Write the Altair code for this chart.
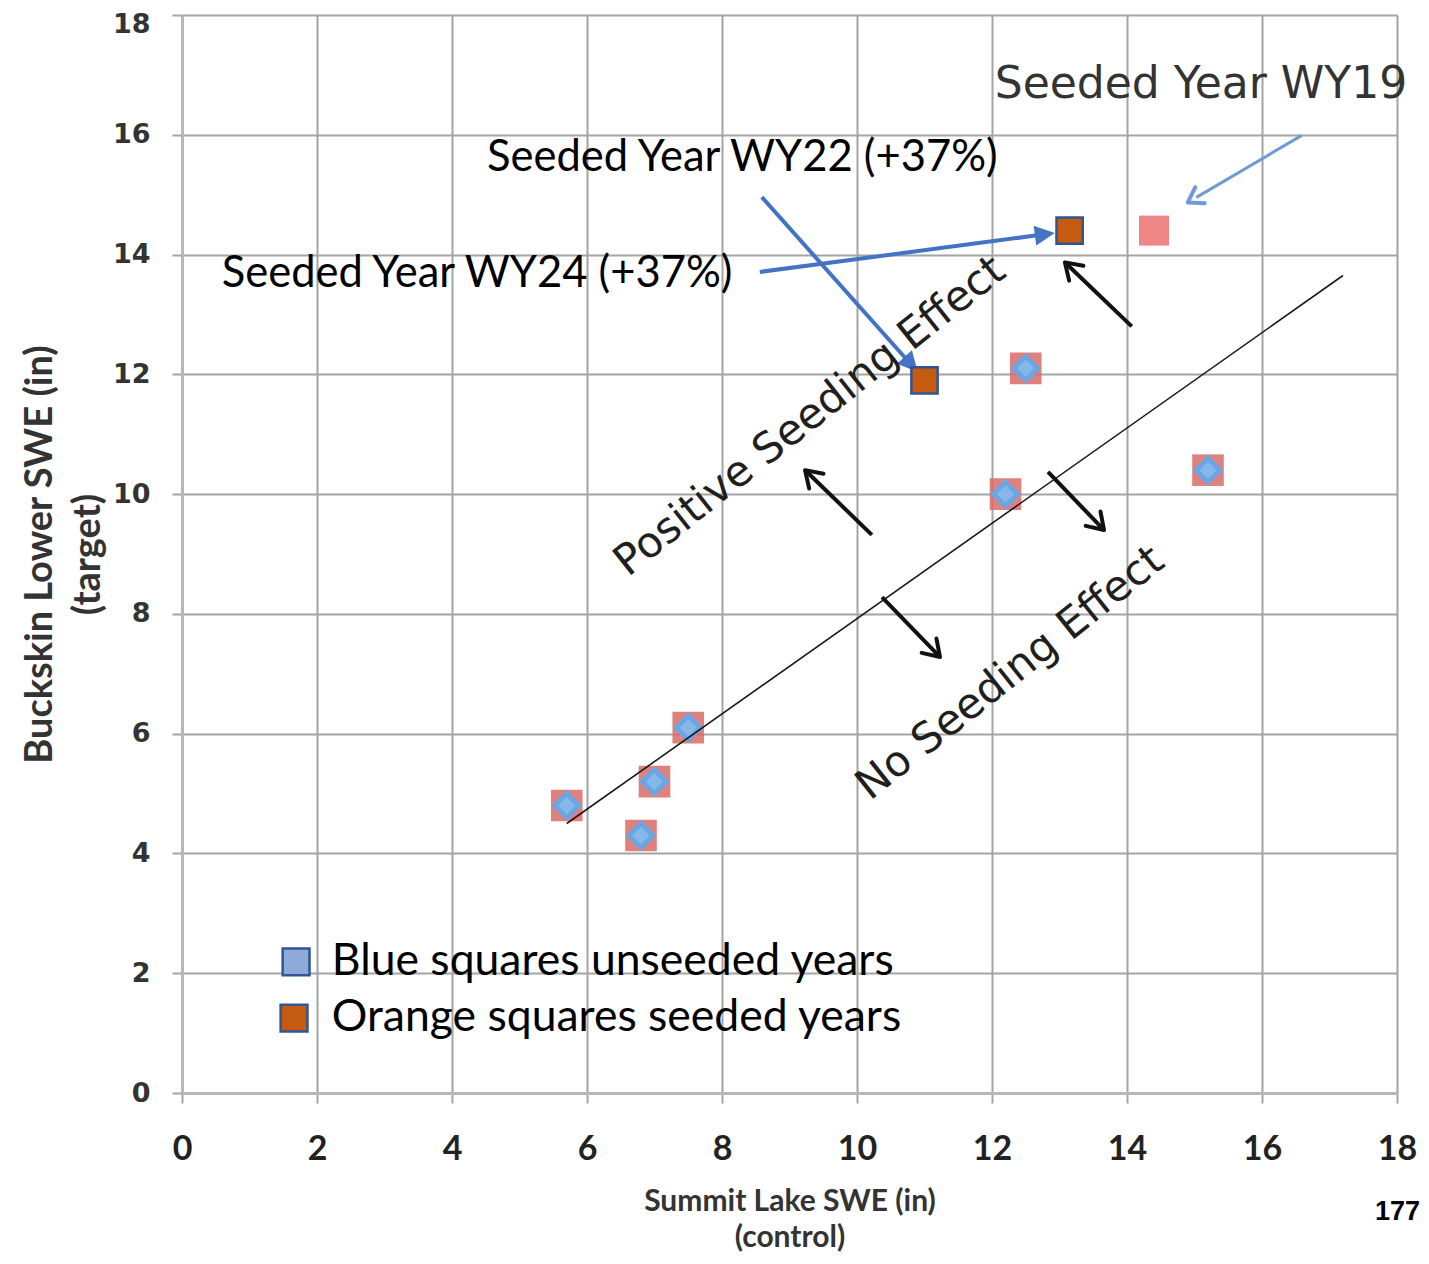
import math
import altair as alt
import pandas as pd

# ---------------- data ----------------
unseeded_x = [5.7, 6.8, 7.0, 7.5, 12.2, 12.5, 15.2]
unseeded_y = [4.8, 4.3, 5.2, 6.1, 10.0, 12.1, 10.4]
wy19_x = [14.4]
wy19_y = [14.4]
seeded_x = [11.0, 13.15]
seeded_y = [11.9, 14.4]
fit_x = [5.7, 17.2]
fit_y = [4.5, 13.65]

ticks = [0, 2, 4, 6, 8, 10, 12, 14, 16, 18]

# blue annotation arrows (tail -> head)
blue_x = [8.59, 8.56]
blue_y = [14.96, 13.71]
blue_x2 = [10.90, 12.93]
blue_y2 = [12.04, 14.36]
# light blue arrow for WY19
lb_x = [16.59]
lb_y = [15.99]
lb_x2 = [14.90]
lb_y2 = [14.87]
# black arrows
blk_x = [14.07, 10.22, 12.83, 10.37]
blk_y = [12.80, 9.32, 10.37, 8.28]
blk_x2 = [13.08, 9.23, 13.66, 11.23]
blk_y2 = [13.87, 10.40, 9.40, 7.28]

note_text = ["Seeded Year WY22 (+37%)", "Seeded Year WY24 (+37%)"]
note_x = [4.52, 0.59]
note_y = [15.61, 13.67]
wy19_text = ["Seeded Year WY19"]
wy19_tx = [12.04]
wy19_ty = [16.83]
diag_text = ["Positive Seeding Effect", "No Seeding Effect"]
diag_x = [9.30, 12.27]
diag_y = [11.30, 7.01]
legend_text = ["Blue squares unseeded years", "Orange squares seeded years"]
legend_x = [1.69, 1.66]
legend_y = [2.19, 1.25]
legend_tx = [2.22, 2.22]
legend_fill = ["#8EAADB", "#C55A11"]

W, H = 1215, 1078
SX, SY = W / 18.0, H / 18.0

xs = alt.Scale(domain=[0, 18], nice=False, zero=False)
ys = alt.Scale(domain=[0, 18], nice=False, zero=False)

x_axis = alt.Axis(values=ticks, title=["Summit Lake SWE (in)", "(control)"],
                  grid=True, gridColor="#A4A4A4", gridWidth=2,
                  domainColor="#B8B8B8", domainWidth=3,
                  tickColor="#A4A4A4", tickWidth=2, tickSize=10,
                  labelFlush=False,
                  labelFont="Lato", labelFontWeight="bold", labelFontSize=34,
                  labelColor="#222222", labelPadding=29,
                  titleFont="Lato", titleFontWeight="bold", titleFontSize=30,
                  titleColor="#333333", titleLineHeight=36, titlePadding=20)
y_axis = alt.Axis(values=ticks, title=["Buckskin Lower SWE (in)", "(target)"],
                  grid=True, gridColor="#A4A4A4", gridWidth=2,
                  domainColor="#B8B8B8", domainWidth=3,
                  tickColor="#A4A4A4", tickWidth=2, tickSize=10,
                  labelFlush=False,
                  labelOffset={"condition": {"test": "datum.value == 18", "value": 9}, "value": 0},
                  labelFont="DejaVu Sans", labelFontWeight="bold", labelFontSize=27,
                  labelColor="#333333", labelPadding=22,
                  titleFont="Lato", titleFontWeight="bold", titleFontSize=38,
                  titleColor="#333333", titleLineHeight=48, titlePadding=5)


def X(f="x"):
    return alt.X(f + ":Q", scale=xs, axis=x_axis)


def Y(f="y"):
    return alt.Y(f + ":Q", scale=ys, axis=y_axis)


def arrow_df(x, y, x2, y2, shorten):
    rows = []
    for a, b, c, d in zip(x, y, x2, y2):
        dxp = (c - a) * SX
        dyp = -(d - b) * SY
        L = math.hypot(dxp, dyp)
        ang = math.degrees(math.atan2(dxp, -dyp)) % 360
        f = max(L - shorten, 0) / L
        rows.append(dict(x=a, y=b, xe=a + (c - a) * f, ye=b + (d - b) * f,
                         hx=c, hy=d, angle=ang))
    return pd.DataFrame(rows)


unseeded = pd.DataFrame({"x": unseeded_x, "y": unseeded_y})
base = alt.Chart(unseeded).mark_point(shape="square", filled=True, color="#DB6B67",
                                      opacity=0.85, size=1000).encode(x=X(), y=Y())
diam = alt.Chart(unseeded).mark_point(shape="diamond", filled=True, color="#6CA6E2",
                                      opacity=1, size=950).encode(x=X(), y=Y())
diam_hi = alt.Chart(unseeded).mark_point(shape="diamond", filled=True, color="#94C4F2",
                                         opacity=0.6, size=300).encode(x=X(), y=Y())

wy19 = alt.Chart(pd.DataFrame({"x": wy19_x, "y": wy19_y})).mark_point(
    shape="square", filled=True, color="#EE8080", opacity=0.95, size=900).encode(x=X(), y=Y())

fit = alt.Chart(pd.DataFrame({"x": [fit_x[0]], "y": [fit_y[0]], "x2": [fit_x[1]], "y2": [fit_y[1]]})).mark_rule(
    color="#1a1a1a", strokeWidth=1.6).encode(x=X(), y=Y(), x2="x2:Q", y2="y2:Q")

tri = "M0,0 L0.5,1 L-0.5,1 Z"
chev = "M-0.62,0.95 L0,0 L0.62,0.95"

ba = arrow_df(blue_x, blue_y, blue_x2, blue_y2, 16)
blue_rule = alt.Chart(ba).mark_rule(color="#4472C4", strokeWidth=4).encode(
    x=X(), y=Y(), x2="xe:Q", y2="ye:Q")
blue_head = alt.Chart(ba).mark_point(shape=tri, filled=True, color="#4472C4", opacity=1,
                                     size=1600).encode(
    x=X("hx"), y=Y("hy"), angle=alt.Angle("angle:Q", scale=None))

la = arrow_df(lb_x, lb_y, lb_x2, lb_y2, 10)
lb_rule = alt.Chart(la).mark_rule(color="#6E9BD6", strokeWidth=3).encode(
    x=X(), y=Y(), x2="xe:Q", y2="ye:Q")
lb_head = alt.Chart(la).mark_point(shape=chev, filled=False, color="#6E9BD6", opacity=1,
                                   strokeWidth=4, strokeJoin="round", strokeCap="round",
                                   size=900).encode(
    x=X("hx"), y=Y("hy"), angle=alt.Angle("angle:Q", scale=None))

ka = arrow_df(blk_x, blk_y, blk_x2, blk_y2, 2)
blk_rule = alt.Chart(ka).mark_rule(color="#111111", strokeWidth=4).encode(
    x=X(), y=Y(), x2="xe:Q", y2="ye:Q")
blk_head = alt.Chart(ka).mark_point(shape=chev, filled=False, color="#111111", opacity=1,
                                    strokeWidth=4, strokeJoin="round", strokeCap="round",
                                    size=1100).encode(
    x=X("hx"), y=Y("hy"), angle=alt.Angle("angle:Q", scale=None))

seeded = alt.Chart(pd.DataFrame({"x": seeded_x, "y": seeded_y})).mark_point(
    shape="square", filled=True, fill="#C55A11", stroke="#2F5597", strokeWidth=2.5,
    opacity=1, size=690).encode(x=X(), y=Y())

notes = alt.Chart(pd.DataFrame({"x": note_x, "y": note_y, "t": note_text})).mark_text(
    align="left", baseline="middle", font="Lato", fontSize=43.5, color="#000000").encode(
    x=X(), y=Y(), text="t:N")

wy19_note = alt.Chart(pd.DataFrame({"x": wy19_tx, "y": wy19_ty, "t": wy19_text})).mark_text(
    align="left", baseline="middle", font="DejaVu Sans", fontSize=44, color="#333333").encode(
    x=X(), y=Y(), text="t:N")

diag = alt.Chart(pd.DataFrame({"x": diag_x, "y": diag_y, "t": diag_text})).mark_text(
    align="center", baseline="middle", font="DejaVu Sans", fontSize=42.5, color="#1f1f1f",
    angle=321.5).encode(x=X(), y=Y(), text="t:N")

leg_df = pd.DataFrame({"x": legend_x, "y": legend_y, "tx": legend_tx, "t": legend_text,
                       "c": legend_fill})
leg_sq = alt.Chart(leg_df).mark_point(shape="square", filled=True, stroke="#2F5597",
                                      strokeWidth=2.5, opacity=1, size=720).encode(
    x=X(), y=Y(), fill=alt.Fill("c:N", scale=None))
leg_tx = alt.Chart(leg_df).mark_text(align="left", baseline="middle", font="Lato",
                                     fontSize=44.5, color="#000000").encode(
    x=X("tx"), y=Y(), text="t:N")

page = alt.Chart(pd.DataFrame({"t": ["177"]})).mark_text(
    align="right", baseline="middle", font="Liberation Sans", fontWeight="bold",
    fontSize=27, color="#000000").encode(x=alt.value(1238), y=alt.value(1197), text="t:N")

chart = alt.layer(
    base, diam, diam_hi, wy19, fit,
    blue_rule, blue_head, lb_rule, lb_head, blk_rule, blk_head,
    seeded, notes, wy19_note, diag, leg_sq, leg_tx, page
).properties(
    width=W, height=H,
    autosize=alt.AutoSizeParams(type="none"),
    padding={"left": 174, "top": 7, "right": 24, "bottom": 162},
).configure_view(stroke=None).configure(background="white")

chart.save("out.html", embed_options={"renderer": "svg", "actions": False})
